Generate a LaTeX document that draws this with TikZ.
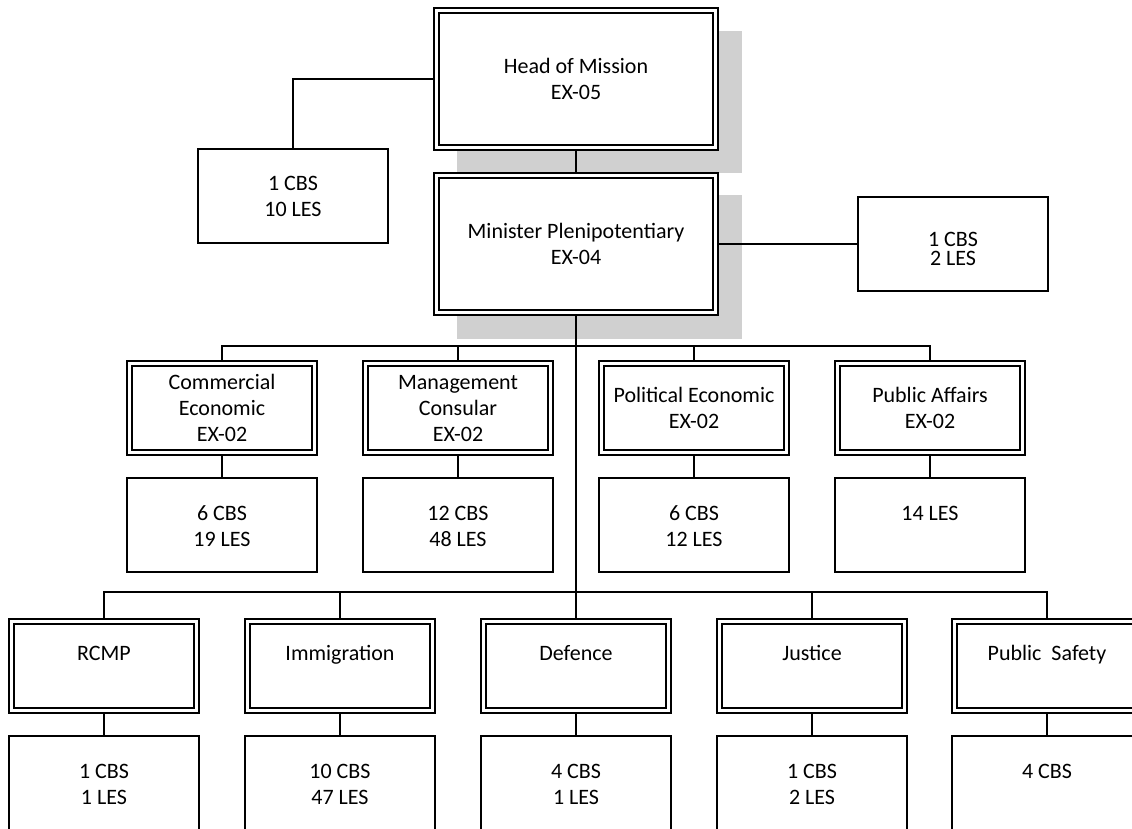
\documentclass[tikz,border=0pt]{standalone}
\usepackage{fontspec}
\setmainfont{Carlito}
\usetikzlibrary{calc,backgrounds}
\definecolor{shadowgray}{RGB}{208,208,208}
\newcommand\bt[5]{\parbox[c][#2][t]{#1}{\centering\baselineskip=#4\relax\vspace*{\dimexpr#3-18pt\relax}\rule{0pt}{18pt}#5\par}}
\tikzset{
 boxbase/.style={inner sep=0pt, outer sep=0pt, fill=white, font=\fontsize{22pt}{26pt}\selectfont},
 sbox/.style={boxbase, draw, line width=2pt},
 dbox/.style={boxbase, draw, line width=2pt, double=white, double distance=3pt},
 conn/.style={line width=2pt},
 shadowfill/.style={fill=shadowgray, draw=none}
}
\begin{document}
\begin{tikzpicture}[x=1pt,y=-1pt]
\useasboundingbox (0,0) rectangle (1132,829);
\clip (0,0) rectangle (1132,829);

% top level
\node[dbox] (hom) at (576,79) {\bt{279pt}{137pt}{63.5pt}{26pt}{Head of Mission\\EX-05}};
\node[dbox] (min) at (576,244) {\bt{279pt}{137pt}{62.5pt}{26pt}{Minister Plenipotentiary\\EX-04}};
\node[sbox] (left) at (293,196) {\bt{190pt}{94pt}{42pt}{26pt}{1 CBS\\10 LES}};
\node[sbox] (right) at (953,244) {\bt{190pt}{94pt}{49pt}{20pt}{1 CBS\\2 LES}};

% level 2
\node[dbox] (ce) at (222,408) {\bt{185pt}{89pt}{25.5pt}{26pt}{Commercial\\Economic\\EX-02}};
\node[dbox] (mc) at (458,408) {\bt{185pt}{89pt}{25.5pt}{26pt}{Management\\Consular\\EX-02}};
\node[dbox] (pe) at (694,408) {\bt{185pt}{89pt}{38.5pt}{26pt}{Political Economic\\EX-02}};
\node[dbox] (pa) at (930,408) {\bt{185pt}{89pt}{38.5pt}{26pt}{Public Affairs\\EX-02}};

\node[sbox] (cei) at (222,525) {\bt{190pt}{94pt}{42pt}{26pt}{6 CBS\\19 LES}};
\node[sbox] (mci) at (458,525) {\bt{190pt}{94pt}{42pt}{26pt}{12 CBS\\48 LES}};
\node[sbox] (pei) at (694,525) {\bt{190pt}{94pt}{42pt}{26pt}{6 CBS\\12 LES}};
\node[sbox] (pai) at (930,525) {\bt{190pt}{94pt}{42pt}{26pt}{14 LES}};

% level 3
\node[dbox] (rc) at (104,666) {\bt{185pt}{89pt}{38.5pt}{26pt}{RCMP}};
\node[dbox] (im) at (340,666) {\bt{185pt}{89pt}{38.5pt}{26pt}{Immigration}};
\node[dbox] (de) at (576,666) {\bt{185pt}{89pt}{38.5pt}{26pt}{Defence}};
\node[dbox] (ju) at (812,666) {\bt{185pt}{89pt}{38.5pt}{26pt}{Justice}};
\node[dbox] (ps) at (1047,666) {\bt{185pt}{89pt}{38.5pt}{26pt}{Public~~Safety}};

\node[sbox] (rci) at (104,783) {\bt{190pt}{94pt}{42pt}{26pt}{1 CBS\\1 LES}};
\node[sbox] (imi) at (340,783) {\bt{190pt}{94pt}{42pt}{26pt}{10 CBS\\47 LES}};
\node[sbox] (dei) at (576,783) {\bt{190pt}{94pt}{42pt}{26pt}{4 CBS\\1 LES}};
\node[sbox] (jui) at (812,783) {\bt{190pt}{94pt}{42pt}{26pt}{1 CBS\\2 LES}};
\node[sbox] (psi) at (1047,783) {\bt{190pt}{94pt}{42pt}{26pt}{4 CBS}};

\coordinate (bus1) at (576,346);
\coordinate (bus2) at (576,592);

\begin{scope}[on background layer]
 \fill[shadowfill] ($(hom.north west)+(20.5,21)$) rectangle ($(hom.south east)+(26.5,26)$);
 \fill[shadowfill] ($(min.north west)+(20.5,20)$) rectangle ($(min.south east)+(26.5,26)$);
 \draw[conn] (hom.south) -- (min.north);
 \draw[conn] (hom.west) -| (left.north);
 \draw[conn] (min.east) -- (right.west);
 \draw[conn] (min.south) -- (bus2);
 \draw[conn] (ce.north) |- (bus1) -| (pa.north);
 \draw[conn] (mc.north) -- (mc.north |- bus1);
 \draw[conn] (pe.north) -- (pe.north |- bus1);
 \draw[conn] (ce.south) -- (cei.north);
 \draw[conn] (mc.south) -- (mci.north);
 \draw[conn] (pe.south) -- (pei.north);
 \draw[conn] (pa.south) -- (pai.north);
 \draw[conn] (rc.north) |- (bus2) -| (ps.north);
 \draw[conn] (im.north) -- (im.north |- bus2);
 \draw[conn] (de.north) -- (de.north |- bus2);
 \draw[conn] (ju.north) -- (ju.north |- bus2);
 \draw[conn] (rc.south) -- (rci.north);
 \draw[conn] (im.south) -- (imi.north);
 \draw[conn] (de.south) -- (dei.north);
 \draw[conn] (ju.south) -- (jui.north);
 \draw[conn] (ps.south) -- (psi.north);
\end{scope}
\end{tikzpicture}
\end{document}
